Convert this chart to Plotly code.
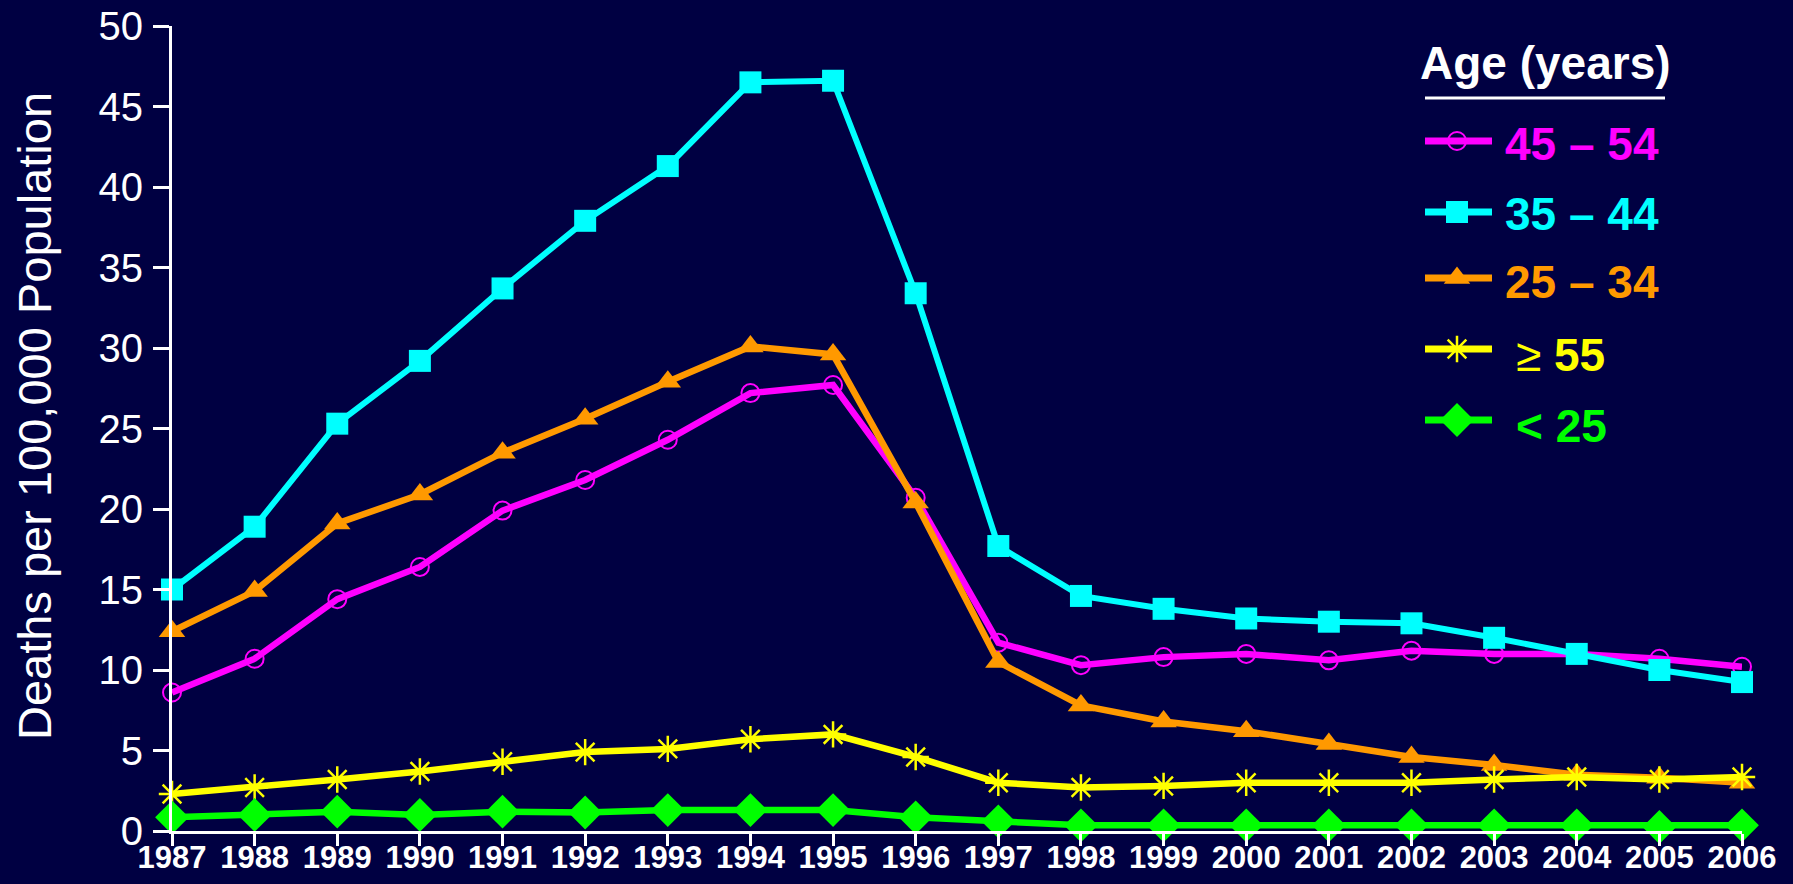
import plotly.graph_objects as go

years = list(range(1987, 2007))
age_45_54 = [8.6, 10.7, 14.4, 16.4, 19.9, 21.8, 24.3, 27.2, 27.7, 20.7,
             11.7, 10.3, 10.8, 11.0, 10.6, 11.2, 11.0, 11.0, 10.7, 10.2]
age_35_44 = [15.0, 18.9, 25.3, 29.2, 33.7, 37.9, 41.3, 46.5, 46.6, 33.4,
             17.7, 14.6, 13.8, 13.2, 13.0, 12.9, 12.0, 11.0, 10.0, 9.25]
age_25_34 = [12.4, 14.9, 19.1, 20.9, 23.5, 25.6, 27.9, 30.1, 29.6, 20.4,
             10.5, 7.8, 6.8, 6.2, 5.4, 4.6, 4.1, 3.5, 3.3, 3.0]
age_55_plus = [2.3, 2.7, 3.2, 3.7, 4.3, 4.9, 5.1, 5.7, 6.0, 4.6,
               3.0, 2.7, 2.8, 3.0, 3.0, 3.0, 3.2, 3.35, 3.2, 3.35]
age_under_25 = [0.85, 1.0, 1.2, 1.0, 1.2, 1.15, 1.3, 1.3, 1.3, 0.85,
                0.6, 0.35, 0.35, 0.35, 0.35, 0.35, 0.35, 0.35, 0.25, 0.35]

series_names = ["45 \u2013 54", "35 \u2013 44", "25 \u2013 34", "\u2265 55", "< 25"]
series_values = [age_45_54, age_35_44, age_25_34, age_55_plus, age_under_25]
y_ticks = [0, 5, 10, 15, 20, 25, 30, 35, 40, 45, 50]

colors = ["#FF00FF", "#00FFFF", "#FF9900", "#FFFF00", "#00FF00"]
symbols = ["circle-open", "square", "triangle-up", "asterisk-open", "diamond"]
msizes = [18, 22, 23, 22, 26]
mlines = [2, 0, 0, 2.5, 0]
lwidths = [6.5, 6, 6.5, 6.5, 6.5]

BG = "#000042"
FONT = "Liberation Sans, Arial, sans-serif"
W, H = 1793, 884
L, R, T, B = 172, 51, 26, 53

fig = go.Figure()

for name, vals, c, s, ms, ml, lw in zip(series_names, series_values, colors,
                                         symbols, msizes, mlines, lwidths):
    fig.add_trace(go.Scatter(
        x=years, y=vals, mode="lines+markers", name=name, showlegend=False,
        line=dict(color=c, width=lw),
        marker=dict(symbol=s, size=ms, color=c, line=dict(color=c, width=ml)),
        cliponaxis=False, hoverinfo="x+y+name",
    ))

# Manual legend drawn on an overlay axis measured in page pixels
leg_line_y = [141, 212, 278, 349, 420]
leg_text_y = [144, 214, 282, 355, 426]
leg_text_x = [1503, 1503, 1503, 1514, 1514]
for i, (name, c, s, ms, ml, lw) in enumerate(zip(series_names, colors, symbols,
                                                  msizes, mlines, lwidths)):
    fig.add_trace(go.Scatter(
        x=[1425, 1492], y=[leg_line_y[i]] * 2, mode="lines",
        line=dict(color=c, width=7), xaxis="x2", yaxis="y2",
        showlegend=False, hoverinfo="skip", cliponaxis=False,
    ))
    fig.add_trace(go.Scatter(
        x=[1457], y=[leg_line_y[i]], mode="markers",
        marker=dict(symbol=s, size=ms, color=c, line=dict(color=c, width=ml)),
        xaxis="x2", yaxis="y2", showlegend=False, hoverinfo="skip",
        cliponaxis=False,
    ))
    if name.startswith("\u2265"):
        txt = "<span style='font-weight:normal'>\u2265</span> 55"
    else:
        txt = name
    fig.add_annotation(
        x=leg_text_x[i], y=leg_text_y[i], xref="x2", yref="y2",
        text=txt, showarrow=False, xanchor="left", yanchor="middle",
        font=dict(family=FONT, size=46, color=c, weight="bold"),
    )

fig.add_annotation(
    x=1418, y=63, xref="x2", yref="y2", text="Age (years)", showarrow=False,
    xanchor="left", yanchor="middle",
    font=dict(family=FONT, size=46, color="white", weight="bold"),
)
fig.add_shape(type="line", xref="x2", yref="y2", x0=1425, x1=1665, y0=98, y1=98,
              line=dict(color="white", width=3))

# Y-axis title
fig.add_annotation(
    x=-0.0879, y=0.5155, xref="paper", yref="paper",
    text="Deaths per 100,000 Population",
    showarrow=False, textangle=-90, xanchor="center", yanchor="middle",
    font=dict(family=FONT, size=47, color="white"),
)

fig.update_layout(
    template="none",
    width=W, height=H,
    margin=dict(l=L, r=R, t=T, b=B, autoexpand=False),
    paper_bgcolor=BG, plot_bgcolor=BG,
    font=dict(family=FONT, color="white"),
    showlegend=False,
    xaxis=dict(
        range=[1987, 2006], tickmode="array", tickvals=years,
        ticktext=[str(y) for y in years], automargin=False,
        showgrid=False, zeroline=False, showline=True, linecolor="white",
        linewidth=3, ticks="outside", ticklen=12, tickwidth=3,
        tickcolor="white", ticklabelstandoff=-15, ticklabeloverflow="allow",
        tickfont=dict(family=FONT, size=31, color="white", weight="bold"),
        fixedrange=True,
    ),
    yaxis=dict(
        range=[0, 50], tickmode="array", tickvals=y_ticks, automargin=False,
        showgrid=False, zeroline=False, showline=True, linecolor="white",
        linewidth=3, ticks="outside", ticklen=16, tickwidth=3,
        tickcolor="white", ticklabelstandoff=2, ticklabeloverflow="allow",
        tickfont=dict(family=FONT, size=40, color="white"),
        fixedrange=True,
    ),
    xaxis2=dict(range=[L, W - R], domain=[0, 1], overlaying="x", visible=False,
                fixedrange=True, anchor="y2", automargin=False),
    yaxis2=dict(range=[H - B, T], domain=[0, 1], overlaying="y", visible=False,
                fixedrange=True, anchor="x2", automargin=False),
)

fig.write_html(
    "out.html",
    config={"displayModeBar": False},
    post_script=("document.body.style.margin='0';"
                 "document.body.style.padding='0';"
                 "document.body.style.background='" + BG + "';"
                 "document.documentElement.style.background='" + BG + "';"),
)
